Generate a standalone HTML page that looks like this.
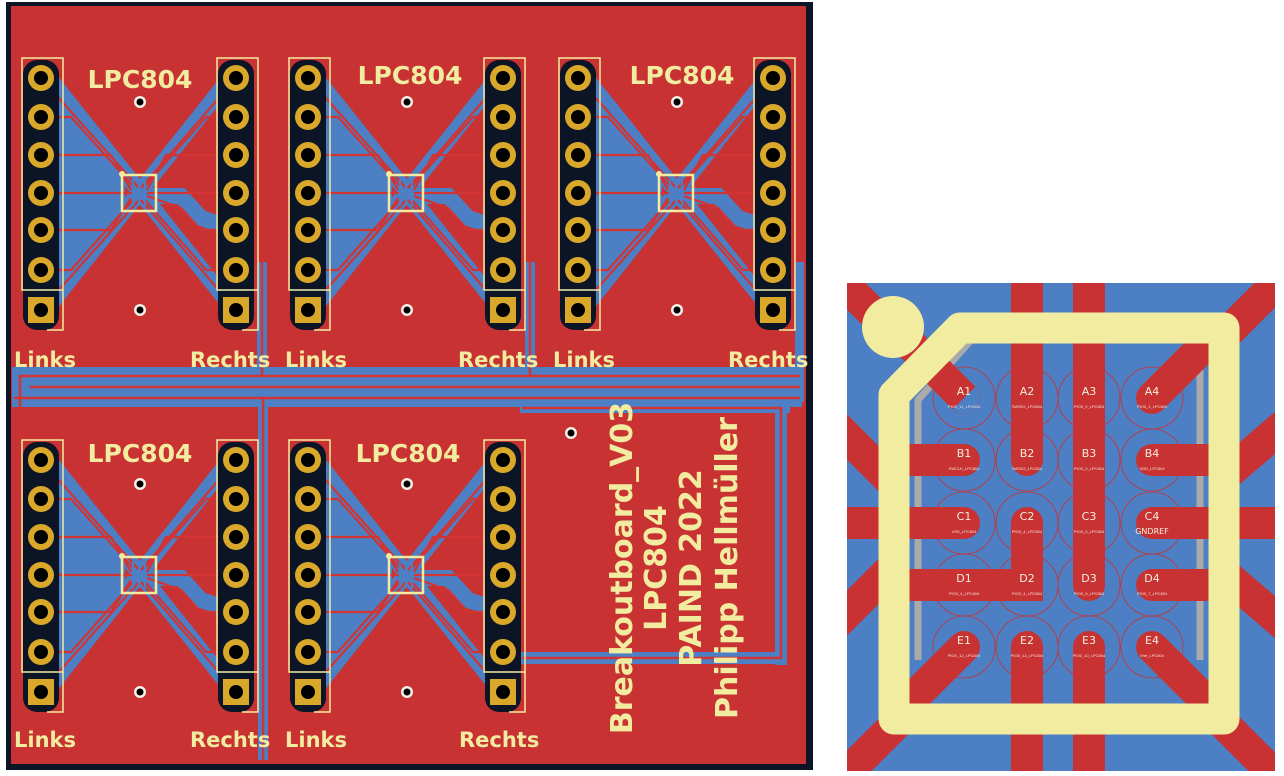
<!DOCTYPE html>
<html><head><meta charset="utf-8"><style>
html,body{margin:0;padding:0;background:#fff;width:1284px;height:776px;overflow:hidden}
svg{display:block}
.silk{font-family:"DejaVu Sans","Liberation Sans",sans-serif;font-weight:bold;fill:#f2eca0}
.pl{font-family:"DejaVu Sans","Liberation Sans",sans-serif;fill:#f4f0e0;font-size:11px}
.ps{font-family:"Liberation Sans",sans-serif;fill:#f4e6e0;font-size:4px}
</style></head><body>
<svg width="1284" height="776" viewBox="0 0 1284 776" xmlns="http://www.w3.org/2000/svg">
<defs>
<g id="mod">
 <!-- blue fan -->
 <polygon points="14,8 62,58 84,98 84,132 62,172 14,226" fill="#4d7fc4"/>
 <polygon points="181,8 150,50 112,100 112,130 150,180 181,226" fill="#4d7fc4" opacity="0.0"/>
 <g stroke="#4d7fc4" stroke-width="16" fill="none" stroke-linecap="round">
  <line x1="12" y1="5" x2="190" y2="228"/>
  <line x1="185" y1="5" x2="8" y2="228"/>
  <polyline points="112,118 140,118 160,140 190,150"/>
 </g>
 <g stroke="#d23333" stroke-width="2.2" fill="none">
  <polyline points="0,0 98,110"/>
  <polyline points="0,39 30,39 92,108"/>
  <polyline points="0,77 70,77 90,112"/>
  <polyline points="0,115 92,115"/>
  <polyline points="0,152 70,152 90,120"/>
  <polyline points="0,192 30,192 92,122"/>
  <polyline points="0,232 98,122"/>
  <polyline points="195,0 100,110"/>
  <polyline points="195,39 165,39 104,108"/>
  <polyline points="195,77 125,77 106,112"/>
  <polyline points="195,115 106,115"/>
  <polyline points="195,152 160,152 140,130 106,118"/>
  <polyline points="195,192 165,192 104,122"/>
  <polyline points="195,232 100,122"/>
 </g>
 <!-- holes -->
 <circle cx="99" cy="24" r="6" fill="#f4f0e8"/><circle cx="99" cy="24" r="3.5" fill="#000"/>
 <circle cx="99" cy="232" r="6" fill="#f4f0e8"/><circle cx="99" cy="232" r="3.5" fill="#000"/>
 <!-- chip -->
 <rect x="81" y="97" width="34" height="36" fill="none" stroke="#f2eca0" stroke-width="2.5"/>
 <circle cx="81" cy="96" r="3" fill="#f2eca0"/>
 <g stroke="#4d7fc4" stroke-width="2"><line x1="92" y1="102" x2="92" y2="128"/><line x1="98" y1="102" x2="98" y2="128"/><line x1="104" y1="102" x2="104" y2="128"/></g>
 <!-- headers -->
 <g id="col">
  <rect x="-18" y="-18" width="36" height="270" rx="14" fill="#0c1526"/>
  <g fill="#d9a82a">
   <circle cx="0" cy="0" r="13"/><circle cx="0" cy="39" r="13"/><circle cx="0" cy="77" r="13"/>
   <circle cx="0" cy="115" r="13"/><circle cx="0" cy="152" r="13"/><circle cx="0" cy="192" r="13"/>
   <rect x="-13" y="219" width="26" height="26"/>
  </g>
  <g fill="#000">
   <circle cx="0" cy="0" r="7"/><circle cx="0" cy="39" r="7"/><circle cx="0" cy="77" r="7"/>
   <circle cx="0" cy="115" r="7"/><circle cx="0" cy="152" r="7"/><circle cx="0" cy="192" r="7"/>
   <circle cx="0" cy="232" r="7"/>
  </g>
  <rect x="-19" y="-20" width="41" height="232" fill="none" stroke="#f2eca0" stroke-width="1.5"/>
  <polyline points="22,212 22,252 6,252" fill="none" stroke="#f2eca0" stroke-width="1.5"/>
 </g>
 <use href="#col" x="195" y="0"/>
</g>
</defs>

<!-- board -->
<rect x="6" y="2" width="807" height="768" fill="#0c1526"/>
<rect x="11" y="6" width="795" height="758" fill="#c83232"/>

<!-- long traces -->
<g fill="#4d7fc4">
 <rect x="12" y="367" width="790" height="40"/>
 <rect x="257" y="262" width="10" height="110"/>
 <rect x="525" y="262" width="10" height="110"/>
 <rect x="795" y="262" width="9" height="140"/>
 <rect x="258" y="400" width="10" height="360"/>
 <rect x="520" y="403" width="270" height="10"/>
 <rect x="775" y="403" width="12" height="262"/>
 <rect x="520" y="652" width="265" height="12"/>
</g>
<g stroke="#d23333" stroke-width="2.5" fill="none">
 <polyline points="20,410 20,376 800,376"/>
 <line x1="30" y1="387" x2="800" y2="387"/>
 <line x1="14" y1="398" x2="800" y2="398"/>
 <line x1="262" y1="262" x2="262" y2="376"/>
 <line x1="530" y1="262" x2="530" y2="376"/>
 <line x1="263" y1="398" x2="263" y2="760"/>
 <polyline points="522,408 781,408 781,658 522,658"/>
</g>
<rect x="268" y="410" width="252" height="354" fill="#c83232"/>
<rect x="12" y="410" width="245" height="354" fill="#c83232"/>
<rect x="535" y="414" width="238" height="236" fill="#c83232"/>
<rect x="535" y="666" width="268" height="97" fill="#c83232"/>

<use href="#mod" x="41" y="78"/>
<use href="#mod" x="308" y="78"/>
<use href="#mod" x="578" y="78"/>
<use href="#mod" x="41" y="460"/>
<use href="#mod" x="308" y="460"/>

<circle cx="571" cy="433" r="6" fill="#f4f0e8"/><circle cx="571" cy="433" r="3.5" fill="#000"/>

<g class="silk" font-size="25">
 <text x="140" y="88" text-anchor="middle">LPC804</text>
 <text x="410" y="84" text-anchor="middle">LPC804</text>
 <text x="682" y="84" text-anchor="middle">LPC804</text>
 <text x="140" y="462" text-anchor="middle">LPC804</text>
 <text x="408" y="462" text-anchor="middle">LPC804</text>
</g>
<g class="silk" font-size="21">
 <text x="14" y="367">Links</text><text x="190" y="367">Rechts</text>
 <text x="285" y="367">Links</text><text x="458" y="367">Rechts</text>
 <text x="553" y="367">Links</text><text x="728" y="367">Rechts</text>
 <text x="14" y="747">Links</text><text x="190" y="747">Rechts</text>
 <text x="285" y="747">Links</text><text x="459" y="747">Rechts</text>
</g>
<g class="silk" font-size="30" text-anchor="middle">
 <text transform="translate(632,568) rotate(-90)">Breakoutboard_V03</text>
 <text transform="translate(666,568) rotate(-90)">LPC804</text>
 <text transform="translate(701,568) rotate(-90)">PAIND 2022</text>
 <text transform="translate(737,568) rotate(-90)">Philipp Hellmüller</text>
</g>

<!-- right detail -->
<svg x="847" y="283" width="428" height="488" viewBox="847 283 428 488">
 <rect x="847" y="283" width="428" height="488" fill="#4d7fc4"/>
 <g stroke="#c83232" stroke-width="32" fill="none" stroke-linecap="butt">
  <line x1="1027" y1="270" x2="1027" y2="343"/>
  <line x1="1089" y1="270" x2="1089" y2="343"/>
  <line x1="1027" y1="700" x2="1027" y2="790"/>
  <line x1="1089" y1="700" x2="1089" y2="790"/>
  <line x1="840" y1="523" x2="910" y2="523"/>
  <line x1="1207" y1="523" x2="1290" y2="523"/>
  <line x1="840" y1="280" x2="900" y2="340"/>
  <line x1="1280" y1="280" x2="1210" y2="350"/>
  <line x1="830" y1="420" x2="890" y2="480"/>
  <line x1="1290" y1="420" x2="1220" y2="480"/>
  <line x1="830" y1="630" x2="890" y2="570"/>
  <line x1="1290" y1="630" x2="1220" y2="570"/>
  <line x1="830" y1="790" x2="900" y2="720"/>
  <line x1="1290" y1="790" x2="1210" y2="710"/>
 </g>
 <g stroke="#aaa" stroke-width="7" fill="none">
  <polyline points="918,660 918,400 980,330 1210,330 1200,330 1200,660"/>
 </g>
 <g stroke="#c83232" stroke-width="0.8" fill="none">
  <circle cx="964" cy="398" r="31"/><circle cx="1027" cy="398" r="31"/><circle cx="1089" cy="398" r="31"/><circle cx="1152" cy="398" r="31"/>
  <circle cx="964" cy="460" r="31"/><circle cx="1027" cy="460" r="31"/><circle cx="1089" cy="460" r="31"/><circle cx="1152" cy="460" r="31"/>
  <circle cx="964" cy="523" r="31"/><circle cx="1027" cy="523" r="31"/><circle cx="1089" cy="523" r="31"/><circle cx="1152" cy="523" r="31"/>
  <circle cx="964" cy="585" r="31"/><circle cx="1027" cy="585" r="31"/><circle cx="1089" cy="585" r="31"/><circle cx="1152" cy="585" r="31"/>
  <circle cx="964" cy="647" r="31"/><circle cx="1027" cy="647" r="31"/><circle cx="1089" cy="647" r="31"/><circle cx="1152" cy="647" r="31"/>
 </g>
 <g stroke="#c83232" stroke-width="32" fill="none" stroke-linecap="round">
  <line x1="964" y1="398" x2="910" y2="344" stroke-linecap="butt"/>
  <circle cx="964" cy="398" r="0.1"/>
  <line x1="1027" y1="460" x2="1027" y2="330"/>
  <line x1="1089" y1="585" x2="1089" y2="330"/>
  <line x1="1152" y1="398" x2="1212" y2="338"/>
  <line x1="964" y1="460" x2="900" y2="460"/>
  <line x1="1152" y1="460" x2="1215" y2="460"/>
  <line x1="964" y1="523" x2="900" y2="523"/>
  <line x1="1152" y1="523" x2="1215" y2="523"/>
  <polyline points="1027,523 1027,585 900,585" stroke-linejoin="miter"/>
  <line x1="1152" y1="585" x2="1215" y2="585"/>
  <line x1="964" y1="647" x2="905" y2="706"/>
  <line x1="1027" y1="647" x2="1027" y2="720"/>
  <line x1="1089" y1="647" x2="1089" y2="720"/>
  <line x1="1152" y1="647" x2="1212" y2="707"/>
 </g>
 <!-- yellow outline -->
 <path d="M894,719 L894,395 L960,328 L1224,328 L1224,719 Z" fill="none" stroke="#f2eca0" stroke-width="31" stroke-linejoin="round"/>
 <circle cx="893" cy="327" r="31" fill="#f2eca0"/>
 <g class="pl" text-anchor="middle">
  <text x="964" y="395">A1</text><text x="1027" y="395">A2</text><text x="1089" y="395">A3</text><text x="1152" y="395">A4</text>
  <text x="964" y="457">B1</text><text x="1027" y="457">B2</text><text x="1089" y="457">B3</text><text x="1152" y="457">B4</text>
  <text x="964" y="520">C1</text><text x="1027" y="520">C2</text><text x="1089" y="520">C3</text><text x="1152" y="520">C4</text>
  <text x="964" y="582">D1</text><text x="1027" y="582">D2</text><text x="1089" y="582">D3</text><text x="1152" y="582">D4</text>
  <text x="964" y="644">E1</text><text x="1027" y="644">E2</text><text x="1089" y="644">E3</text><text x="1152" y="644">E4</text>
 </g>
 <g class="ps" text-anchor="middle">
  <text x="964" y="408">PIO0_11_LPC804</text><text x="1027" y="408">SWDIO_LPC804</text><text x="1089" y="408">PIO0_0_LPC804</text><text x="1152" y="408">PIO0_1_LPC804</text>
  <text x="964" y="470">SWCLK_LPC804</text><text x="1027" y="470">SWDIO_LPC804</text><text x="1089" y="470">PIO0_0_LPC804</text><text x="1152" y="470">VDD_LPC804</text>
  <text x="964" y="533">VSS_LPC804</text><text x="1027" y="533">PIO0_4_LPC804</text><text x="1089" y="533">PIO0_0_LPC804</text>
  <text x="964" y="595">PIO0_4_LPC804</text><text x="1027" y="595">PIO0_4_LPC804</text><text x="1089" y="595">PIO0_9_LPC804</text><text x="1152" y="595">PIO0_7_LPC804</text>
  <text x="964" y="657">PIO0_12_LPC804</text><text x="1027" y="657">PIO0_13_LPC804</text><text x="1089" y="657">PIO0_10_LPC804</text><text x="1152" y="657">Vref_LPC804</text>
 </g>
 <text x="1152" y="534" text-anchor="middle" style="font-family:'DejaVu Sans',sans-serif;font-size:8px;fill:#f4f0e0">GNDREF</text>
</svg>
</svg>
</body></html>
